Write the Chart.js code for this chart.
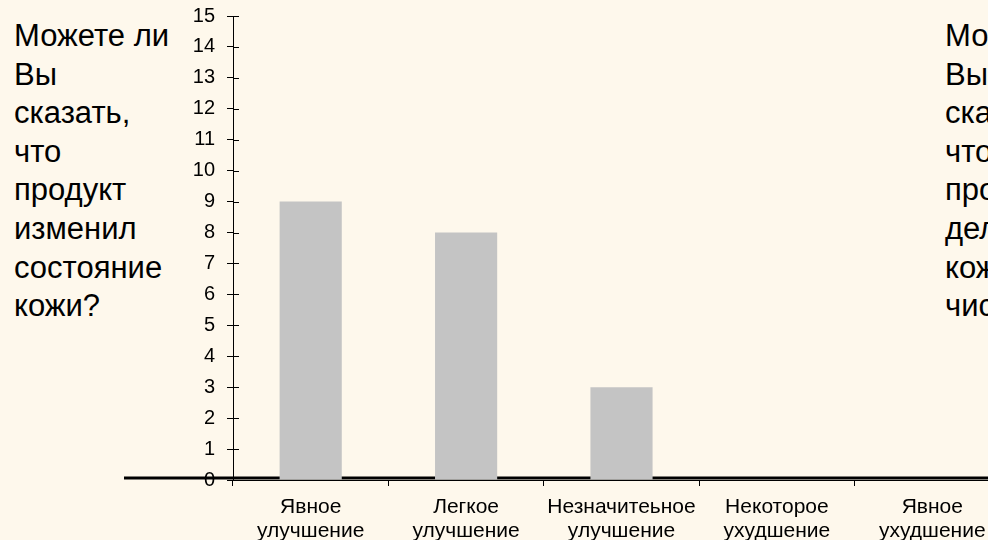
<!DOCTYPE html>
<html>
<head>
<meta charset="utf-8">
<script src="https://cdn.jsdelivr.net/npm/chart.js@4"></script>
<style>
  html, body { margin: 0; padding: 0; }
  body {
    width: 988px; height: 540px; overflow: hidden; position: relative;
    background: #fef8ec;
    font-family: "Liberation Sans", Arial, sans-serif;
  }
  #myChart { position: absolute; left: 0; top: 0; }
  .side {
    position: absolute; top: 17px;
    font-size: 31px; line-height: 38.6px; color: #000;
    white-space: pre;
  }
</style>
</head>
<body>
<div class="side" style="left:14px">Можете ли
Вы
сказать,
что
продукт
изменил
состояние
кожи?</div>
<div class="side" style="left:945px">Может ли
Вы
сказать,
что
продукт
делает
кожу
чистой?</div>
<canvas id="myChart" width="1020" height="540"></canvas>
<script>

    const categories = [
        ['Явное', 'улучшение'],
        ['Легкое', 'улучшение'],
        ['Незначитеьное', 'улучшение'],
        ['Некоторое', 'ухудшение'],
        ['Явное', 'ухудшение']
    ];
    const answers = [9, 8, 3, 0, 0];
    const yMin = 0;
    const yMax = 15;
    const yStep = 1;

    // short tick marks that cross the value axis, plus the heavy baseline rule
    const axisDecor = {
        id: 'axisDecor',
        beforeDatasetsDraw(chart) {
            const ctx = chart.ctx;
            const y0 = chart.scales.y.getPixelForValue(0);
            ctx.save();
            ctx.fillStyle = '#000';
            ctx.fillRect(124, y0 - 3.5, chart.width - 124, 3);
            ctx.restore();
        },
        afterDraw(chart) {
            const ctx = chart.ctx;
            const ys = chart.scales.y;
            ctx.save();
            ctx.strokeStyle = '#000';
            ctx.lineWidth = 1;
            ys.ticks.forEach((t, i) => {
                const py = Math.round(ys.getPixelForTick(i)) + 0.5;
                ctx.beginPath();
                ctx.moveTo(ys.right, py);
                ctx.lineTo(ys.right + 6, py);
                ctx.stroke();
            });
            ctx.restore();
        }
    };

    const config = {
        type: 'bar',
        data: {
            labels: categories,
            datasets: [{
                data: answers,
                backgroundColor: '#c4c4c4',
                borderWidth: 0,
                barPercentage: 0.4,
                categoryPercentage: 1
            }]
        },
        options: {
            responsive: false,
            animation: false,
            layout: {
                padding: { left: 0, top: 16, right: 10, bottom: 0 }
            },
            scales: {
                x: {
                    z: 1,
                    afterFit(scale) {
                        scale.height = 60;
                        scale.paddingLeft = 0;
                        scale.paddingRight = 0;
                    },
                    grid: {
                        drawOnChartArea: false,
                        tickLength: 6,
                        color: '#000'
                    },
                    border: { color: '#000', width: 1 },
                    ticks: {
                        color: '#000',
                        padding: 9,
                        maxRotation: 0,
                        autoSkip: false,
                        font: { family: '"Liberation Sans", Arial, sans-serif', size: 21, lineHeight: 1.14 }
                    }
                },
                y: {
                    min: yMin,
                    max: yMax,
                    afterFit(scale) {
                        scale.width = 233;
                        scale.paddingTop = 0;
                        scale.paddingBottom = 0;
                    },
                    grid: {
                        drawOnChartArea: false,
                        tickLength: 6,
                        color: '#000'
                    },
                    border: { color: '#000', width: 1 },
                    ticks: {
                        stepSize: yStep,
                        color: '#000',
                        padding: 12,
                        font: { family: '"Liberation Sans", Arial, sans-serif', size: 20 }
                    }
                }
            },
            plugins: {
                legend: { display: false },
                title: { display: false },
                tooltip: { enabled: false }
            }
        },
        plugins: [axisDecor]
    };

    const ctx = document.getElementById('myChart');

    new Chart(ctx, config);
</script>
</body>
</html>
